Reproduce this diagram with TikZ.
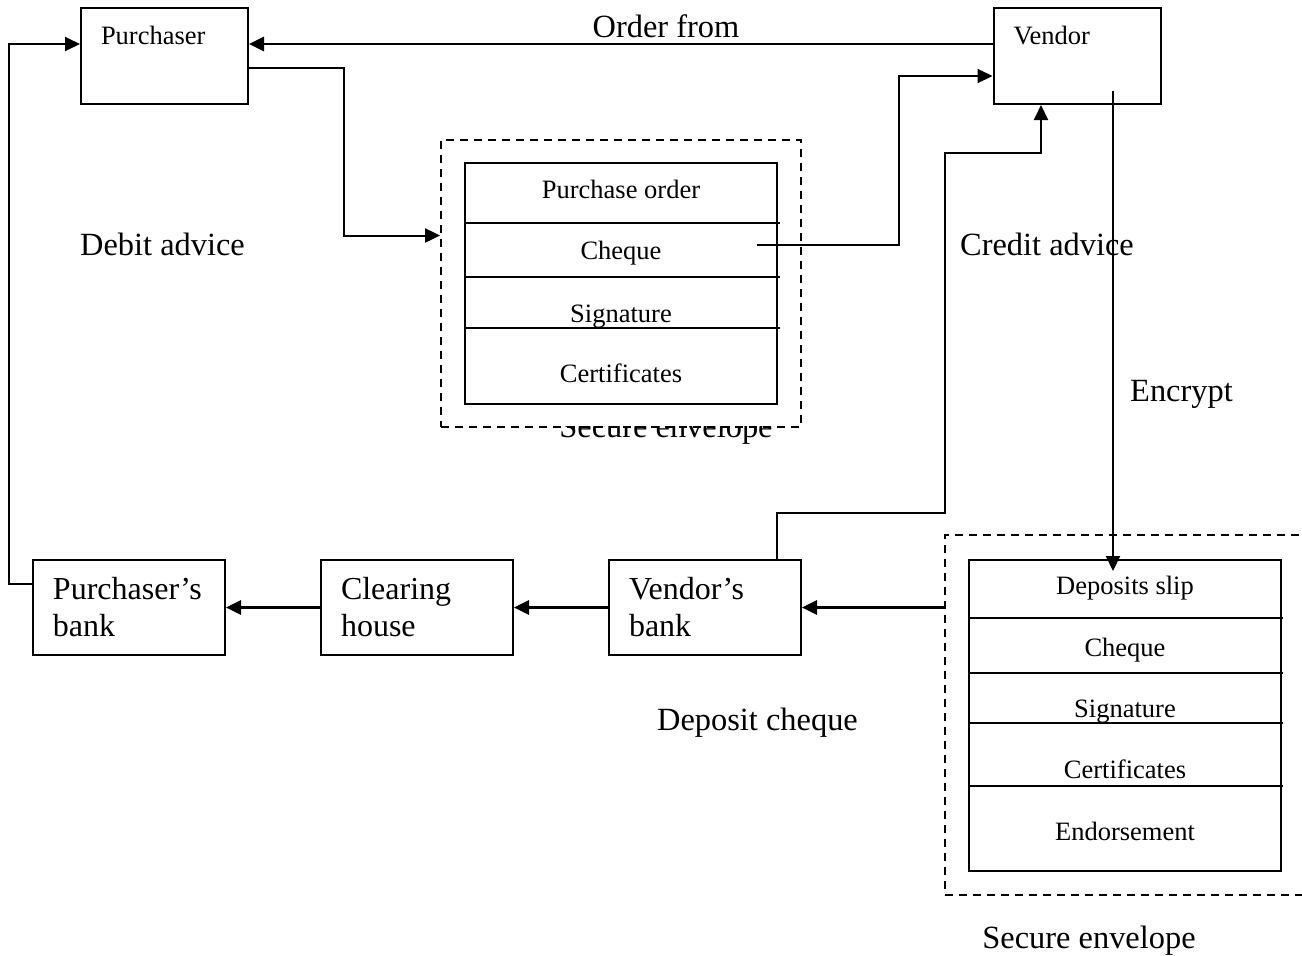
\documentclass[tikz,border=0pt]{standalone}
\usepackage{fontspec}
\setmainfont{Liberation Serif}
\usepackage{tikz}
\usetikzlibrary{positioning}
\usetikzlibrary{arrows.meta}

\begin{document}
\begin{tikzpicture}[x=0.5pt, y=-0.5pt,
        party/.style={rectangle, draw=black, line width=1pt, inner xsep=10pt, inner ysep=0pt, text width=63.5pt, align=left, text height=18pt, text depth=30pt, font=\fontsize{13.25}{16}\selectfont},
        bank/.style={rectangle, draw=black, line width=1pt, inner xsep=10pt, inner ysep=0pt, text width=76pt, minimum height=47.5pt, align=left, font=\fontsize{16}{18.5}\selectfont},
        packet/.style={rectangle, draw=black, line width=1pt, minimum width=156pt},
        envelope/.style={rectangle, draw=black, line width=0.9pt, dash pattern=on 4pt off 3pt},
        field/.style={anchor=base, inner sep=0pt, font=\fontsize{13.25}{16}\selectfont},
        note/.style={anchor=base, inner sep=0pt, font=\fontsize{16.2}{19}\selectfont},
        flow/.style={line width=1.4pt, -{Triangle[length=7.5pt,width=7pt]}},
        slimflow/.style={line width=1pt, -{Triangle[length=7.5pt,width=7pt]}},
        rowline/.style={line width=1pt}
      ]
        \useasboundingbox (0,0) rectangle (1302,955);

        % parties
        \node[party]  (pur)  at (164.5,56)  {Purchaser};
        \node[party]  (ven)  at (1077,56)   {Vendor};

        % banks
        \node[bank]  (pbank)  at (129,607.5)                          {Purchaser’s\\bank};
        \node[bank]  (chouse) [right of=pbank, node distance=144pt]   {Clearing\\house};
        \node[bank]  (vbank)  [right of=chouse, node distance=144pt]  {Vendor’s\\bank};

        % envelope sent to the vendor
        \begin{scope}
          \clip (540,426) rectangle (800,460);
          \node[note]  (envA)  at (666,437)  {Secure envelope};
        \end{scope}
        \node[envelope, minimum width=180pt, minimum height=143.5pt]  (secA)  at (621,283.5)  {};
        \node[packet, minimum height=120.5pt]  (stackA)  at (621,283.5)  {};
        \foreach \y in {222.5,277,328}
          \draw[rowline] (465,\y) -- (780,\y);
        \foreach \n/\txt/\y in {poA/Purchase order/198, chqA/Cheque/259, sigA/Signature/322, certA/Certificates/382}
          \node[field]  (\n)  at (621,\y)  {\txt};

        % envelope sent to the bank
        \node[envelope, minimum width=187.5pt, minimum height=180pt]  (secB)  at (1132.5,715)  {};
        \node[packet, minimum height=155.5pt]  (stackB)  at (1125,715.5)  {};
        \foreach \y in {618,673,723,786}
          \draw[rowline] (969,\y) -- (1283,\y);
        \foreach \n/\txt/\y in {slipB/Deposits slip/594, chqB/Cheque/656, sigB/Signature/717, certB/Certificates/778, endB/Endorsement/840}
          \node[field]  (\n)  at (1125,\y)  {\txt};

        % labels
        \node[note]  (order)    at (666,37)     {Order from};
        \node[note]  (debit)    at (162.5,255)  {Debit advice};
        \node[note]  (credit)   at (1047,255)   {Credit advice};
        \node[note]  (encrypt)  at (1181.5,401) {Encrypt};
        \node[note]  (deposit)  at (757.5,730)  {Deposit cheque};
        \node[note]  (envB)     at (1089,948)   {Secure envelope};

        % connectors
        \coordinate (chqend) at (757,245);
        \draw[flow] ([yshift=6pt]ven.west) -- ([yshift=6pt]pur.east);
        \draw[slimflow] ([yshift=-6pt]pur.east) -| ([xshift=-48pt,yshift=24pt]secA.west) -- ([yshift=24pt]secA.west);
        \draw[slimflow] (chqend) -| ([xshift=-47pt,yshift=-10pt]ven.west) -- ([yshift=-10pt]ven.west);
        \draw[slimflow] ([xshift=36pt]vbank.north) |- (945,513) |- ([xshift=-18pt,yshift=-24pt]ven.south) -- ([xshift=-18pt]ven.south);
        \draw[slimflow] ([xshift=18pt,yshift=-17.5pt]ven.center) -- ([xshift=-6pt,yshift=-6pt]stackB.north);
        \draw[flow] (secB.west |- vbank.east) -- (vbank.east);
        \draw[flow] (vbank.west) -- (chouse.east);
        \draw[flow] (chouse.west) -- (pbank.east);
        \draw[slimflow] ([yshift=12pt]pbank.west) -- ++(-11.5pt,0) |- ([yshift=6pt]pur.west);
      \end{tikzpicture}
\end{document}
